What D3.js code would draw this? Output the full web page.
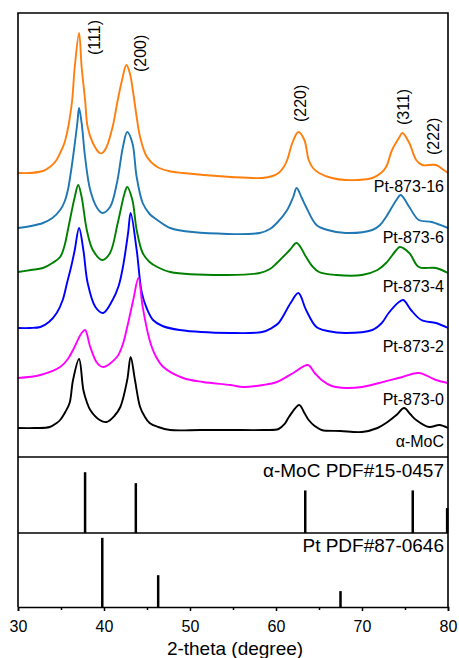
<!DOCTYPE html>
<html>
<head>
<meta charset="utf-8">
<script src="https://cdn.jsdelivr.net/npm/d3@7"></script>
<style>
  body { margin: 0; background: #fff; }
  text { font-family: Arial, "Liberation Sans", sans-serif; fill: #000; }
</style>
</head>
<body>
<div id="chart"></div>
<script>
// XRD patterns, stacked intensity (a.u.), [2-theta, intensity]
const pt873_16 = [[30,284],[31.4,284],[32.9,286],[33.7,290],[34.4,296],[34.9,304],[35.4,314],[35.7,324],[36.0,338],[36.3,357],[36.6,390],[37.1,424],[37.4,390],[37.8,357],[38.1,330],[38.7,314],[39.5,304],[39.8,304],[40.3,310],[41.0,330],[41.6,357],[42.1,377],[42.6,392],[43.0,384],[43.4,364],[43.8,340],[44.2,320],[45.0,300],[46.2,290],[47.5,286],[49.2,284],[54.7,280],[58.4,279],[59.6,281],[60.3,284],[60.9,290],[61.3,297],[61.9,314],[62.6,325],[63.3,317],[63.8,297],[64.3,289],[65.0,284],[66.5,279],[68.1,277],[71.2,279],[72.2,284],[72.8,290],[73.5,307],[74.3,319],[74.7,324],[75.5,314],[76.3,297],[77.0,292],[78.6,292],[79.5,287],[80,284]];
const pt873_6 = [[30,229],[31.5,231],[32.9,234],[34.0,239],[34.9,247],[35.4,255],[35.8,267],[36.1,282],[36.4,300],[36.9,334],[37.1,349],[37.4,334],[37.8,300],[38.4,267],[39.2,249],[39.8,244],[40.7,250],[41.5,274],[42.2,310],[42.7,325],[43.3,314],[43.8,280],[44.5,254],[45.3,243],[46.2,237],[47.7,229],[50.3,225],[58.1,224],[59.3,228],[60.1,234],[61.3,247],[62.0,260],[62.4,269],[63.0,259],[63.5,250],[64.7,232],[66.0,227],[68.1,224],[71.2,227],[72.1,232],[72.8,240],[74.0,257],[74.5,262],[75.5,250],[76.6,237],[78.1,235],[80,229]];
const pt873_4 = [[30,185],[31.5,187],[32.9,189],[34.0,194],[34.9,200],[35.4,211],[35.8,227],[36.2,244],[36.6,260],[37.0,272],[37.4,260],[38.0,227],[38.7,207],[39.8,197],[40.7,204],[41.6,234],[42.4,264],[42.7,270],[43.3,257],[43.8,227],[44.5,204],[45.3,195],[46.2,190],[47.7,185],[54.3,182],[58.1,184],[59.3,188],[60.1,194],[61.6,207],[62.4,214],[63.5,200],[64.2,191],[65.0,185],[67.0,182],[70.0,182],[71.8,187],[72.8,194],[74.0,207],[74.4,210],[75.5,204],[76.6,190],[78.6,189],[80,184]];
const pt873_2 = [[30,129],[31.4,129],[32.6,130],[33.6,135],[34.5,144],[35.2,157],[35.7,174],[36.2,191],[36.6,207],[37.1,229],[37.6,207],[38.1,174],[39.0,150],[39.9,144],[41.0,157],[41.7,171],[42.2,190],[42.8,224],[43.1,244],[43.8,207],[44.4,164],[45.0,148],[45.7,137],[46.8,131],[48.8,127],[54.7,124],[58.4,125],[59.5,129],[60.3,134],[61.7,154],[62.6,164],[63.5,147],[64.7,130],[66.0,126],[68.1,124],[71.2,127],[72.3,134],[73.1,144],[74.3,155],[74.8,157],[75.7,147],[76.9,137],[78.6,134],[80,129]];
const pt873_0 = [[30,79],[32.6,82],[34.9,90],[35.8,98],[36.4,107],[37.4,124],[37.8,127],[38.4,110],[39.2,94],[39.9,90],[41.5,100],[42.2,113],[42.7,130],[43.4,157],[44.0,179],[44.5,150],[45.3,117],[46.0,101],[46.9,90],[49.2,79],[51.5,75],[54.7,72],[56.2,70],[58.5,72],[60.1,75],[62.0,84],[63.7,92],[64.5,84],[65.3,77],[66.5,71],[68.1,69],[70.0,70],[72.0,74],[74.7,80],[76.6,84],[78.6,77],[80,74]];
const moc = [[30,29],[32.0,29],[33.7,30],[34.5,34],[34.9,37],[35.5,45],[36.0,54],[36.4,77],[37.1,98],[37.6,67],[38.0,55],[38.4,47],[39.5,37],[40.3,35],[41.2,41],[41.9,50],[42.7,77],[43.1,100],[43.6,77],[44.2,50],[44.7,41],[45.3,34],[46.3,30],[47.7,27],[51.2,27],[54.7,27],[58.5,27],[60.3,28],[61.0,33],[61.5,40],[62.7,52],[63.3,44],[63.8,37],[64.5,31],[65.3,27],[67.5,26],[70.0,25],[71.8,29],[72.8,34],[74.0,42],[74.9,49],[75.6,43],[76.3,37],[77.8,30],[79.0,32],[80,29]];

const seriesNames = ["Pt-873-16", "Pt-873-6", "Pt-873-4", "Pt-873-2", "Pt-873-0", "α-MoC"];
const seriesData = [pt873_16, pt873_6, pt873_4, pt873_2, pt873_0, moc];
const seriesColors = ["#ff7f0e", "#1f77b4", "#008000", "#0000ff", "#ff00ff", "#000000"];
// label baselines in intensity units
const labelLevels = [265, 214, 165, 105, 52, 10];

// reference patterns (relative intensity)
const mocPos = [37.8, 43.7, 63.4, 75.9, 79.9];
const mocInt = [100, 82, 70, 70, 41];
const ptPos = [39.8, 46.3, 67.5];
const ptInt = [100, 46, 23];

const hklLabels = ["(111)", "(200)", "(220)", "(311)", "(222)"];
const hklPos = [38.9, 44.2, 62.8, 74.8, 78.3];
const hklLevel = [402, 385, 335, 332, 302];

const xTicks = [30, 40, 50, 60, 70, 80];
const xMinor = [35, 45, 55, 65, 75];

// set the dimensions
const chartW = 459, chartH = 658;
const plotL = 18, plotR = 448, plotT = 13;
const div1 = 457, div2 = 533, plotB = 607;

const svg = d3.select("#chart")
    .append("svg")
    .attr("width", chartW)
    .attr("height", chartH);

const x = d3.scaleLinear().domain([30, 80]).range([plotL, plotR]);
const y = d3.scaleLinear().domain([0, 444]).range([div1, plotT]);
const yMoc = d3.scaleLinear().domain([0, 125]).range([div2, div1]);
const yPt = d3.scaleLinear().domain([0, 107]).range([plotB, div2]);

// XRD curves
const line = d3.line()
    .x(d => x(d[0]))
    .y(d => y(d[1]))
    .curve(d3.curveCatmullRom.alpha(0.5));

svg.selectAll(".xrd")
    .data(seriesData)
    .enter()
    .append("path")
    .attr("class", "xrd")
    .attr("d", d => line(d))
    .attr("fill", "none")
    .attr("stroke", (d, i) => seriesColors[i])
    .attr("stroke-width", 1.9)
    .attr("stroke-linejoin", "round");

svg.selectAll(".name")
    .data(seriesNames)
    .enter()
    .append("text")
    .attr("x", plotR - 4)
    .attr("y", (d, i) => y(labelLevels[i]))
    .attr("text-anchor", "end")
    .attr("font-size", "16px")
    .text(d => d);

// hkl labels, rotated
svg.selectAll(".hkl")
    .data(hklLabels)
    .enter()
    .append("text")
    .attr("transform", (d, i) => `translate(${x(hklPos[i])},${y(hklLevel[i])}) rotate(-90)`)
    .attr("dy", "0.35em")
    .attr("font-size", "16px")
    .text(d => d);

// reference sticks
svg.selectAll(".moc")
    .data(mocPos)
    .enter()
    .append("line")
    .attr("x1", d => x(d)).attr("x2", d => x(d))
    .attr("y1", yMoc(0))
    .attr("y2", (d, i) => yMoc(mocInt[i]))
    .attr("stroke", "#000")
    .attr("stroke-width", 2.5);

svg.selectAll(".pt")
    .data(ptPos)
    .enter()
    .append("line")
    .attr("x1", d => x(d)).attr("x2", d => x(d))
    .attr("y1", yPt(0))
    .attr("y2", (d, i) => yPt(ptInt[i]))
    .attr("stroke", "#000")
    .attr("stroke-width", 2.5);

svg.append("text")
    .attr("x", plotR - 4)
    .attr("y", 477)
    .attr("text-anchor", "end")
    .attr("font-size", "19px")
    .text("α-MoC PDF#15-0457");

svg.append("text")
    .attr("x", plotR - 4)
    .attr("y", 552)
    .attr("text-anchor", "end")
    .attr("font-size", "19px")
    .text("Pt PDF#87-0646");

// frame and dividers
const frame = svg.append("g")
    .attr("stroke", "#000")
    .attr("stroke-width", 1.6)
    .attr("fill", "none");
frame.append("path").attr("d", `M${plotL},${plotB}V${plotT}H${plotR}V${plotB}`);
frame.append("line").attr("x1", plotL).attr("x2", plotR).attr("y1", div1).attr("y2", div1);
frame.append("line").attr("x1", plotL).attr("x2", plotR).attr("y1", div2).attr("y2", div2);

// X axis
const xAxis = svg.append("g")
    .attr("transform", `translate(0,${plotB})`)
    .call(d3.axisBottom(x).tickValues(xTicks).tickSize(4).tickFormat(d3.format("d")));
xAxis.select(".domain").attr("stroke-width", 1.6);
xAxis.selectAll(".tick line").attr("stroke-width", 1.5);
xAxis.selectAll(".tick text")
    .attr("y", 14)
    .attr("font-size", "16px")
    .attr("font-family", "Arial, 'Liberation Sans', sans-serif");

svg.append("g")
    .attr("transform", `translate(0,${plotB})`)
    .call(d3.axisBottom(x).tickValues(xMinor).tickSize(3).tickFormat(""))
    .call(g => g.select(".domain").remove())
    .selectAll(".tick line").attr("stroke-width", 1.5);

svg.append("text")
    .attr("x", (plotL + plotR) / 2 + 2)
    .attr("y", 655)
    .attr("text-anchor", "middle")
    .attr("font-size", "19px")
    .text("2-theta (degree)");
</script>
</body>
</html>
